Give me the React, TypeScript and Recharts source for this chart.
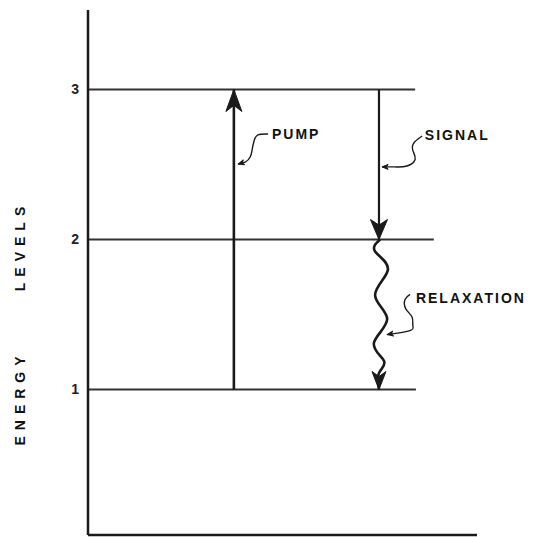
import { ComposedChart, Line, XAxis, YAxis, ReferenceDot } from 'recharts'

// energy levels (value, right end of the drawn line)
const levelValues = [1, 2, 3]
const levelEnds = [8.43, 8.89, 8.41]

// transitions
const pumpX = 3.75
const signalX = 7.48

// wavy non-radiative relaxation, level 2 -> level 1
const relaxWave = [
  { x: 7.51, y: 2.0 },
  { x: 7.38, y: 1.92 },
  { x: 7.71, y: 1.8 },
  { x: 7.38, y: 1.63 },
  { x: 7.69, y: 1.47 },
  { x: 7.35, y: 1.31 },
  { x: 7.61, y: 1.19 },
  { x: 7.48, y: 1.11 },
  { x: 7.48, y: 1.0 },
]

// leader curves from labels to arrows
const pumpLeader = [
  { x: 4.63, y: 2.703 },
  { x: 4.37, y: 2.697 },
  { x: 4.27, y: 2.658 },
  { x: 4.22, y: 2.6 },
  { x: 4.17, y: 2.55 },
  { x: 4.04, y: 2.516 },
  { x: 3.86, y: 2.503 },
]
const signalLeader = [
  { x: 8.59, y: 2.69 },
  { x: 8.38, y: 2.645 },
  { x: 8.35, y: 2.594 },
  { x: 8.41, y: 2.535 },
  { x: 8.2, y: 2.49 },
  { x: 7.89, y: 2.484 },
  { x: 7.56, y: 2.484 },
]
const relaxLeader = [
  { x: 8.28, y: 1.634 },
  { x: 8.15, y: 1.6 },
  { x: 8.17, y: 1.538 },
  { x: 8.33, y: 1.483 },
  { x: 8.35, y: 1.428 },
  { x: 8.28, y: 1.393 },
  { x: 7.69, y: 1.366 },
]

const annotations = [
  { text: 'PUMP', x: 4.73, y: 2.703 },
  { text: 'SIGNAL', x: 8.66, y: 2.697 },
  { text: 'RELAXATION', x: 8.43, y: 1.607 },
]

const yTicks = [1, 2, 3]

const INK = '#1a1a1a'
const FONT = '"Liberation Sans", Arial, sans-serif'

function arrowDot(lastIndex: number, angle: number, len: number, half: number) {
  return (props: any) => {
    const { cx, cy, index } = props
    if (index !== lastIndex || cx == null || cy == null) return <g key={`d-${index}`} />
    return (
      <path
        key={`d-${index}`}
        d={`M0,0 L${-len},${-half} L${-len * 0.72},0 L${-len},${half} Z`}
        transform={`translate(${cx},${cy}) rotate(${angle})`}
        fill={INK}
        stroke={INK}
        strokeWidth={1}
        strokeLinejoin="round"
      />
    )
  }
}

function AxisLabel(props: any) {
  const vb = props.viewBox || { x: 0, y: 10, height: 525 }
  const x = vb.x + 25
  const common = {
    fill: '#111',
    fontFamily: FONT,
    fontSize: 14,
    fontWeight: 600,
    letterSpacing: 6,
    textAnchor: 'middle' as const,
  }
  return (
    <g>
      <text {...common} x={x} y={vb.y + 388} transform={`rotate(-90 ${x} ${vb.y + 388})`}>
        ENERGY
      </text>
      <text {...common} x={x} y={vb.y + 236} transform={`rotate(-90 ${x} ${vb.y + 236})`}>
        LEVELS
      </text>
    </g>
  )
}

export default function App() {
  return (
    <div style={{ position: 'absolute', left: 0, top: 0, width: 543, height: 537, background: '#fff' }}>
      <ComposedChart width={543} height={537} margin={{ top: 10, right: 66, bottom: 0, left: 0 }}>
        <XAxis
          type="number"
          dataKey="x"
          domain={[0, 10]}
          allowDataOverflow
          tick={false}
          tickLine={false}
          height={2}
          axisLine={{ stroke: INK, strokeWidth: 2.5 }}
        />
        <YAxis
          type="number"
          domain={[0.03, 3.53]}
          allowDataOverflow
          ticks={yTicks}
          width={88}
          tickSize={0}
          tickMargin={9}
          tickLine={false}
          axisLine={{ stroke: INK, strokeWidth: 2.5 }}
          tick={{ fill: '#222', fontSize: 14, fontWeight: 700, fontFamily: FONT }}
          label={<AxisLabel />}
        />

        {levelValues.map((v, i) => (
          <Line
            key={`level-${v}`}
            data={[
              { x: 0, y: v },
              { x: levelEnds[i], y: v },
            ]}
            dataKey="y"
            stroke="#333"
            strokeWidth={1.8}
            dot={false}
            activeDot={false}
            isAnimationActive={false}
          />
        ))}

        <Line
          data={[
            { x: pumpX, y: 1 },
            { x: pumpX, y: 3 },
          ]}
          dataKey="y"
          stroke={INK}
          strokeWidth={2.6}
          dot={arrowDot(1, -90, 22, 8)}
          activeDot={false}
          isAnimationActive={false}
        />
        <Line
          data={[
            { x: signalX, y: 3 },
            { x: signalX, y: 2 },
          ]}
          dataKey="y"
          stroke={INK}
          strokeWidth={2.2}
          dot={arrowDot(1, 90, 20, 8.5)}
          activeDot={false}
          isAnimationActive={false}
        />
        <Line
          data={relaxWave}
          dataKey="y"
          type="natural"
          stroke={INK}
          strokeWidth={2.6}
          dot={arrowDot(relaxWave.length - 1, 90, 18, 7)}
          activeDot={false}
          isAnimationActive={false}
        />

        <Line
          data={pumpLeader}
          dataKey="y"
          type="natural"
          stroke={INK}
          strokeWidth={1.4}
          dot={arrowDot(pumpLeader.length - 1, 164, 6, 2.5)}
          activeDot={false}
          isAnimationActive={false}
        />
        <Line
          data={signalLeader}
          dataKey="y"
          type="natural"
          stroke={INK}
          strokeWidth={1.4}
          dot={arrowDot(signalLeader.length - 1, 180, 6, 2.5)}
          activeDot={false}
          isAnimationActive={false}
        />
        <Line
          data={relaxLeader}
          dataKey="y"
          type="natural"
          stroke={INK}
          strokeWidth={1.4}
          dot={arrowDot(relaxLeader.length - 1, 170, 6, 2.5)}
          activeDot={false}
          isAnimationActive={false}
        />

        {annotations.map((a) => (
          <ReferenceDot
            key={a.text}
            x={a.x}
            y={a.y}
            r={0}
            ifOverflow="visible"
            shape={(p: any) => (
              <text
                x={p.cx}
                y={p.cy}
                dy="0.36em"
                fill="#111"
                fontFamily={FONT}
                fontSize={14}
                fontWeight={700}
                letterSpacing={2}
              >
                {a.text}
              </text>
            )}
          />
        ))}
      </ComposedChart>
    </div>
  )
}
